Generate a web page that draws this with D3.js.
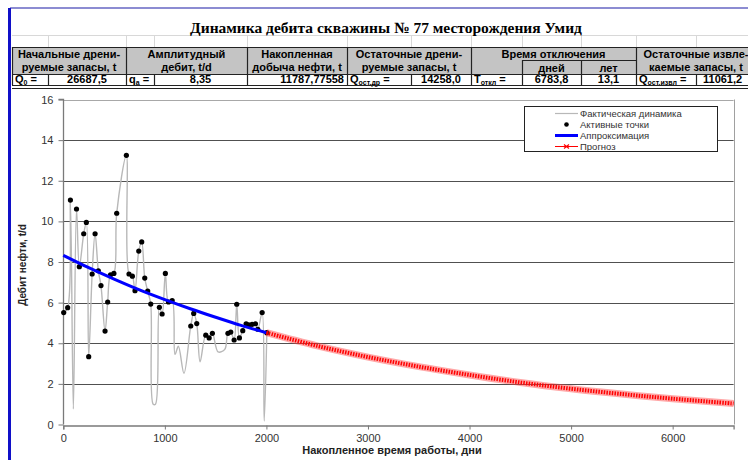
<!DOCTYPE html>
<html><head><meta charset="utf-8">
<script src="https://cdn.jsdelivr.net/npm/d3@7"></script>
<style>
body{margin:0;background:#fff}
svg{display:block}
text{font-family:"Liberation Sans",Arial,sans-serif}
</style>
</head><body>
<svg id="c" width="748" height="460"></svg>
<script>
// ---------------- DATA ----------------
const title = "Динамика дебита скважины № 77 месторождения Умид";

// Actual (smoothed grey line) – all measurements incl. non-active ones
const actualDays = [4,43,70,99,130,158,201,227,250,284,313,345,371,411,437,465,498,526,621,647,680,706,743,772,802,831,861,885,908,946,973,1005,1036,1072,1100,1133,1188,1255,1284,1314,1347,1403,1436,1468,1525,1590,1621,1649,1682,1708,1734,1767,1800,1826,1859,1892,1915,1958,1978,2004];
const actualRate = [5.51,5.75,11.05,0.76,10.61,7.77,9.39,9.95,3.34,7.41,9.39,7.57,6.84,4.60,6.03,7.37,7.44,10.40,13.25,7.41,7.30,6.59,8.54,8.99,7.21,6.57,5.93,1.0,1.0,5.77,5.44,7.44,6.03,6.10,3.45,3.85,2.52,4.85,5.47,4.97,3.09,4.40,4.26,4.49,3.57,3.70,4.49,4.55,4.16,5.92,4.26,4.62,4.96,4.90,4.93,4.96,4.69,5.51,0.17,4.52];

// Active points (black dots)
const activeDays = [4,43,70,130,158,201,227,250,284,313,345,371,411,437,465,498,526,621,647,680,706,743,772,802,831,861,946,973,1005,1036,1072,1255,1284,1314,1403,1436,1468,1621,1649,1682,1708,1734,1767,1800,1826,1859,1892,1915,1958,2004];
const activeRate = [5.51,5.75,11.05,10.61,7.77,9.39,9.95,3.34,7.41,9.39,7.57,6.84,4.60,6.03,7.37,7.44,10.40,13.25,7.41,7.30,6.59,8.54,8.99,7.21,6.57,5.93,5.77,5.44,7.44,6.03,6.10,4.85,5.47,4.97,4.40,4.26,4.49,4.49,4.55,4.16,5.92,4.26,4.62,4.96,4.90,4.93,4.96,4.69,5.51,4.52];

// Approximation (blue)
const approxDays = [0,250,500,750,1000,1250,1500,1750,2000];
const approxRate = [8.33,7.72,7.16,6.63,6.15,5.70,5.28,4.88,4.52];

// Forecast (red)
const forecastDays = [2000,2500,3000,3500,4000,4500,5000,5500,6000,6600];
const forecastRate = [4.52,3.87,3.32,2.85,2.44,2.07,1.76,1.50,1.27,1.03];

const xTicks = [0,1000,2000,3000,4000,5000,6000];
const yTicks = [0,2,4,6,8,10,12,14,16];
const legendLabels = ["Фактическая динамика","Активные точки","Аппроксимация","Прогноз"];
const xTitle = "Накопленное время работы, дни";
const yTitle = "Дебит нефти, t/d";

// Table header groups and data row
const headGroups = [
  {x0:12, x1:126, l1:"Начальные дрени-", l2:"руемые запасы, t"},
  {x0:126,x1:247, l1:"Амплитудный", l2:"дебит, t/d"},
  {x0:247,x1:347, l1:"Накопленная", l2:"добыча нефти, t"},
  {x0:347,x1:471, l1:"Остаточные дрени-", l2:"руемые запасы, t"},
  {x0:471,x1:636, l1:"Время отключения", l2:""},
  {x0:636,x1:756, l1:"Остаточные извле-", l2:"каемые запасы, t"}
];
const subHeads = [{x0:522,x1:581,t:"дней"},{x0:581,x1:636,t:"лет"}];
const dataCells = [
  {x0:12, x1:48,  sym:"Q", sub:"0", eq:" =", align:"start"},
  {x0:48, x1:126, t:"26687,5", align:"middle"},
  {x0:126,x1:154, sym:"q", sub:"a", eq:" =", align:"start"},
  {x0:154,x1:247, t:"8,35", align:"middle"},
  {x0:247,x1:347, t:"11787,77558", align:"end"},
  {x0:347,x1:411, sym:"Q", sub:"ост.др", eq:" =", align:"start"},
  {x0:411,x1:471, t:"14258,0", align:"middle"},
  {x0:471,x1:522, sym:"T", sub:"откл", eq:" =", align:"start"},
  {x0:522,x1:581, t:"6783,8", align:"middle"},
  {x0:581,x1:636, t:"13,1", align:"middle"},
  {x0:636,x1:696, sym:"Q", sub:"ост.извл", eq:" =", align:"start"},
  {x0:696,x1:790, t:"11061,2", align:"start"}
];

// ---------------- DRAW ----------------
const svg = d3.select("#c");

// sheet frame
svg.append("rect").attr("x",10).attr("y",7).attr("width",738).attr("height",2).attr("fill","#8c8cd2");
svg.append("rect").attr("x",8).attr("y",8).attr("width",3).attr("height",452).attr("fill","#1010c8");
svg.append("line").attr("x1",12).attr("x2",748).attr("y1",35.5).attr("y2",35.5).attr("stroke","#d8d8d8");
[48,126,154,247,347,411,471,522,581,636,696].forEach(x=>{
  svg.append("line").attr("x1",x+.5).attr("x2",x+.5).attr("y1",35).attr("y2",47).attr("stroke","#d8d8d8");
});

// title
svg.append("text").attr("x",386).attr("y",33).attr("text-anchor","middle")
  .style("font-family","'Liberation Serif','Times New Roman',serif").style("font-weight","bold").style("font-size","15.5px")
  .text(title);

// table
const tb = svg.append("g");
tb.append("rect").attr("x",12).attr("y",47).attr("width",740).attr("height",27).attr("fill","#c4c4c4");
headGroups.forEach(g=>{
  const cx=(g.x0+g.x1)/2;
  tb.append("text").attr("x",cx).attr("y",58).attr("text-anchor","middle").style("font-weight","bold").style("font-size","11px").text(g.l1);
  if(g.l2) tb.append("text").attr("x",cx).attr("y",71).attr("text-anchor","middle").style("font-weight","bold").style("font-size","11px").text(g.l2);
});
subHeads.forEach(s=>{
  tb.append("text").attr("x",(s.x0+s.x1)/2).attr("y",71.5).attr("text-anchor","middle").style("font-weight","bold").style("font-size","11px").text(s.t);
});
dataCells.forEach(c=>{
  if(c.sym){
    const t=tb.append("text").attr("x",c.x0+3).attr("y",83).style("font-weight","bold").style("font-size","11px");
    t.append("tspan").text(c.sym);
    t.append("tspan").attr("dy",2).style("font-size","7px").text(c.sub);
    t.append("tspan").attr("dy",-2).text(c.eq);
  } else {
    const x = c.align==="middle"?(c.x0+c.x1)/2:(c.align==="end"?c.x1-3:c.x0+7);
    tb.append("text").attr("x",x).attr("y",83).attr("text-anchor",c.align).style("font-weight","bold").style("font-size","11px").text(c.t);
  }
});
const dk="#222";
[[12,748,47],[12,748,74],[12,748,85],[12,748,88],[522,636,60]].forEach(([a,b,y])=>{
  tb.append("line").attr("x1",a).attr("x2",b).attr("y1",y+.5).attr("y2",y+.5).attr("stroke",dk).attr("stroke-width",1.2);
});
[[12,47,85],[126,47,85],[247,47,85],[347,47,85],[471,47,85],[636,47,85],
 [48,74,85],[154,74,85],[411,74,85],[522,60,85],[581,60,85],[696,74,85]].forEach(([x,a,b])=>{
  tb.append("line").attr("x1",x+.5).attr("x2",x+.5).attr("y1",a).attr("y2",b).attr("stroke",dk).attr("stroke-width",1.2);
});

// plot
const x = d3.scaleLinear().domain([0,6600]).range([63.3,733.6]);
const y = d3.scaleLinear().domain([0,16]).range([424.5,99.5]);

const grid = svg.append("g");
yTicks.forEach(v=>{
  if(v===0) return;
  grid.append("line").attr("x1",x(0)).attr("x2",x(6600)).attr("y1",Math.round(y(v))+.5).attr("y2",Math.round(y(v))+.5)
    .attr("stroke", v===16?"#a8a8a8":"#505050").attr("stroke-width",1);
});
grid.append("line").attr("x1",Math.round(x(6600))+.5).attr("x2",Math.round(x(6600))+.5).attr("y1",y(16)).attr("y2",y(0)).attr("stroke","#a0a0a0");

// axes
const yAxis = svg.append("g").attr("transform",`translate(${Math.round(x(0))+.5},0)`)
  .call(d3.axisLeft(y).tickValues(yTicks).tickSize(5).tickPadding(5).tickFormat(d3.format("d")));
const xAxis = svg.append("g").attr("transform",`translate(0,${Math.round(y(0))+.5})`)
  .call(d3.axisBottom(x).tickValues(xTicks).tickSize(4).tickPadding(5).tickFormat(d3.format("d")));
[yAxis,xAxis].forEach(a=>{
  a.select(".domain").attr("stroke","#7a7a7a").attr("stroke-width",1.3);
  a.selectAll(".tick line").attr("stroke","#7a7a7a");
  a.selectAll(".tick text").style("font-size","11px").attr("fill","#333").style("font-family","'Liberation Sans',Arial,sans-serif");
});
yAxis.select(".domain").attr("d",`M-5,${y(16)}H0V${y(0)}`);

// actual grey smoothed
const lineA = d3.line().x((d,i)=>x(actualDays[i])).y((d,i)=>y(actualRate[i])).curve(d3.curveCatmullRom.alpha(0.5));
svg.append("path").attr("d",lineA(actualRate)).attr("fill","none").attr("stroke","#b8b8b8").attr("stroke-width",1.4);

// active points
svg.append("g").selectAll("circle").data(activeRate).join("circle")
  .attr("cx",(d,i)=>x(activeDays[i])).attr("cy",d=>y(d)).attr("r",2.6).attr("fill","#000");

// approximation
const lineB = d3.line().x((d,i)=>x(approxDays[i])).y(d=>y(d)).curve(d3.curveCatmullRom.alpha(0.5));
svg.append("path").attr("d",lineB(approxRate)).attr("fill","none").attr("stroke","#0000ff").attr("stroke-width",3);

// forecast
const lineF = d3.line().x((d,i)=>x(forecastDays[i])).y(d=>y(d)).curve(d3.curveCatmullRom.alpha(0.5));
svg.append("path").attr("d",lineF(forecastRate)).attr("fill","none").attr("stroke","#ff3c3c").attr("stroke-opacity",0.45).attr("stroke-width",7);
svg.append("path").attr("d",lineF(forecastRate)).attr("fill","none").attr("stroke","#ff0000").attr("stroke-width",4).attr("stroke-dasharray","1.5 1.2");

// axis titles
svg.append("text").attr("x",392).attr("y",454).attr("text-anchor","middle").style("font-weight","bold").style("font-size","11px").attr("fill","#222").text(xTitle);
svg.append("text").attr("transform","translate(26,265) rotate(-90)").attr("text-anchor","middle").style("font-weight","bold").style("font-size","10px").attr("fill","#222").text(yTitle);

// legend
const lg = svg.append("g");
lg.append("rect").attr("x",524.5).attr("y",106.5).attr("width",193).attr("height",45).attr("fill","#fff").attr("stroke","#222");
const ly = [113.5,124.5,135.5,146.5];
legendLabels.forEach((t,i)=>{
  lg.append("text").attr("x",580).attr("y",ly[i]+3.5).style("font-size","9.5px").attr("fill","#333").text(t);
});
lg.append("line").attr("x1",555).attr("x2",578).attr("y1",ly[0]).attr("y2",ly[0]).attr("stroke","#b8b8b8").attr("stroke-width",1.2);
lg.append("circle").attr("cx",566.5).attr("cy",ly[1]).attr("r",2.3).attr("fill","#000");
lg.append("line").attr("x1",555).attr("x2",578).attr("y1",ly[2]).attr("y2",ly[2]).attr("stroke","#0000ff").attr("stroke-width",3);
lg.append("line").attr("x1",555).attr("x2",578).attr("y1",ly[3]).attr("y2",ly[3]).attr("stroke","#ff0000").attr("stroke-width",1);
lg.append("path").attr("d",`M${564},${ly[3]-2}l5,4M${564},${ly[3]+2}l5,-4`).attr("stroke","#ff0000").attr("stroke-width",1.2);
</script>
</body></html>
